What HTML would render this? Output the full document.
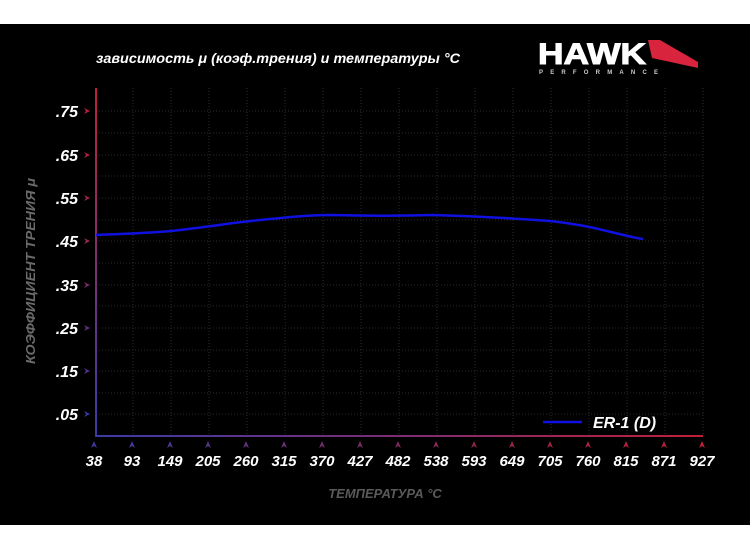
<!DOCTYPE html>
<html><head><meta charset="utf-8"><style>
html,body{margin:0;padding:0;background:#fff;}
svg{display:block;}
text{font-family:"Liberation Sans","DejaVu Sans",sans-serif;font-weight:bold;font-style:italic;}
</style></head><body>
<svg width="750" height="550" xmlns="http://www.w3.org/2000/svg">
<defs>
<linearGradient id="gy" x1="0" y1="0" x2="0" y2="1"><stop offset="0" stop-color="#c0203a"/><stop offset="1" stop-color="#3a3aa8"/></linearGradient>
<linearGradient id="gx" x1="0" y1="0" x2="1" y2="0"><stop offset="0" stop-color="#3a3aa8"/><stop offset="1" stop-color="#c0203a"/></linearGradient>
</defs>
<rect x="0" y="24" width="750" height="501" fill="#000"/>
<text x="96" y="63" fill="#fff" font-size="14" textLength="364" lengthAdjust="spacingAndGlyphs">зависимость μ (коэф.трения) и температуры °C</text>
<!-- logo -->
<text x="538" y="64" fill="#fff" font-size="30" style="font-style:normal;font-weight:bold" textLength="108" lengthAdjust="spacingAndGlyphs" stroke="#fff" stroke-width="1">HAWK</text>
<polygon points="648,40 660,40 698,62 698,68 652,58" fill="#d8243c"/>
<text x="539" y="74" fill="#ccc" font-size="6" style="font-style:normal" letter-spacing="7.2">PERFORMANCE</text>
<!-- grid -->
<g stroke="#2a2a2a" stroke-width="1" stroke-dasharray="1,2">
<line x1="133" y1="88" x2="133" y2="436"/><line x1="171" y1="88" x2="171" y2="436"/><line x1="209" y1="88" x2="209" y2="436"/><line x1="247" y1="88" x2="247" y2="436"/><line x1="285" y1="88" x2="285" y2="436"/><line x1="323" y1="88" x2="323" y2="436"/><line x1="361" y1="88" x2="361" y2="436"/><line x1="399" y1="88" x2="399" y2="436"/><line x1="437" y1="88" x2="437" y2="436"/><line x1="475" y1="88" x2="475" y2="436"/><line x1="513" y1="88" x2="513" y2="436"/><line x1="551" y1="88" x2="551" y2="436"/><line x1="589" y1="88" x2="589" y2="436"/><line x1="627" y1="88" x2="627" y2="436"/><line x1="665" y1="88" x2="665" y2="436"/><line x1="703" y1="88" x2="703" y2="436"/>
<line x1="96" y1="111" x2="703" y2="111"/><line x1="96" y1="133" x2="703" y2="133"/><line x1="96" y1="155" x2="703" y2="155"/><line x1="96" y1="176" x2="703" y2="176"/><line x1="96" y1="198" x2="703" y2="198"/><line x1="96" y1="220" x2="703" y2="220"/><line x1="96" y1="241" x2="703" y2="241"/><line x1="96" y1="263" x2="703" y2="263"/><line x1="96" y1="285" x2="703" y2="285"/><line x1="96" y1="306" x2="703" y2="306"/><line x1="96" y1="328" x2="703" y2="328"/><line x1="96" y1="350" x2="703" y2="350"/><line x1="96" y1="371" x2="703" y2="371"/><line x1="96" y1="393" x2="703" y2="393"/><line x1="96" y1="414" x2="703" y2="414"/>
</g>
<rect x="95" y="88" width="2" height="349" fill="url(#gy)"/>
<rect x="95" y="435" width="608" height="2" fill="url(#gx)"/>
<!-- y labels -->
<g fill="#fff" font-size="16" text-anchor="end">
<text x="78" y="117">.75</text><text x="78" y="161">.65</text><text x="78" y="204">.55</text><text x="78" y="247">.45</text><text x="78" y="291">.35</text><text x="78" y="334">.25</text><text x="78" y="377">.15</text><text x="78" y="420">.05</text>
</g>
<g>
<polygon points="84,108 90,111 84,114 86,111" fill="#c0203a"/><polygon points="84,152 90,155 84,158 86,155" fill="#b42040"/><polygon points="84,195 90,198 84,201 86,198" fill="#a52448"/><polygon points="84,238 90,241 84,244 86,241" fill="#962a55"/><polygon points="84,282 90,285 84,288 86,285" fill="#7a2c68"/><polygon points="84,325 90,328 84,331 86,328" fill="#663080"/><polygon points="84,368 90,371 84,374 86,371" fill="#503490"/><polygon points="84,411 90,414 84,417 86,414" fill="#3a3aa8"/>
</g>
<text transform="translate(35,271) rotate(-90)" fill="#6a6a6a" font-size="13" text-anchor="middle" textLength="186" lengthAdjust="spacingAndGlyphs">КОЭФФИЦИЕНТ ТРЕНИЯ μ</text>
<!-- x labels -->
<g fill="#fff" font-size="15" text-anchor="middle">
<text x="94" y="466">38</text><text x="132" y="466">93</text><text x="170" y="466">149</text><text x="208" y="466">205</text><text x="246" y="466">260</text><text x="284" y="466">315</text><text x="322" y="466">370</text><text x="360" y="466">427</text><text x="398" y="466">482</text><text x="436" y="466">538</text><text x="474" y="466">593</text><text x="512" y="466">649</text><text x="550" y="466">705</text><text x="588" y="466">760</text><text x="626" y="466">815</text><text x="664" y="466">871</text><text x="702" y="466">927</text>
</g>
<g>
<polygon points="91,448 94,441 97,448 94,446" fill="#4038a0"/><polygon points="129,448 132,441 135,448 132,446" fill="#483898"/><polygon points="167,448 170,441 173,448 170,446" fill="#503690"/><polygon points="205,448 208,441 211,448 208,446" fill="#583488"/><polygon points="243,448 246,441 249,448 246,446" fill="#603280"/><polygon points="281,448 284,441 287,448 284,446" fill="#683078"/><polygon points="319,448 322,441 325,448 322,446" fill="#702e70"/><polygon points="357,448 360,441 363,448 360,446" fill="#782c68"/><polygon points="395,448 398,441 401,448 398,446" fill="#802a60"/><polygon points="433,448 436,441 439,448 436,446" fill="#882858"/><polygon points="471,448 474,441 477,448 474,446" fill="#902650"/><polygon points="509,448 512,441 515,448 512,446" fill="#982448"/><polygon points="547,448 550,441 553,448 550,446" fill="#a02444"/><polygon points="585,448 588,441 591,448 588,446" fill="#a82240"/><polygon points="623,448 626,441 629,448 626,446" fill="#b0223e"/><polygon points="661,448 664,441 667,448 664,446" fill="#b8203c"/><polygon points="699,448 702,441 705,448 702,446" fill="#c0203a"/>
</g>
<text x="385" y="498" fill="#5a5a5a" font-size="13" text-anchor="middle">ТЕМПЕРАТУРА °C</text>
<!-- series -->
<path d="M96,235 C120,234 150,233 171,231 C200,228 230,223 260,220 C290,217 310,215 330,215 C370,216 400,216 433,215 C470,216 510,218 550,221 C580,224 600,229 615,233 C628,236 635,238 643,239" fill="none" stroke="#1010e0" stroke-width="2.5"/>
<line x1="543" y1="422" x2="582" y2="422" stroke="#1010e0" stroke-width="2.5"/>
<text x="593" y="428" fill="#fff" font-size="16">ER-1 (D)</text>
</svg>
</body></html>
